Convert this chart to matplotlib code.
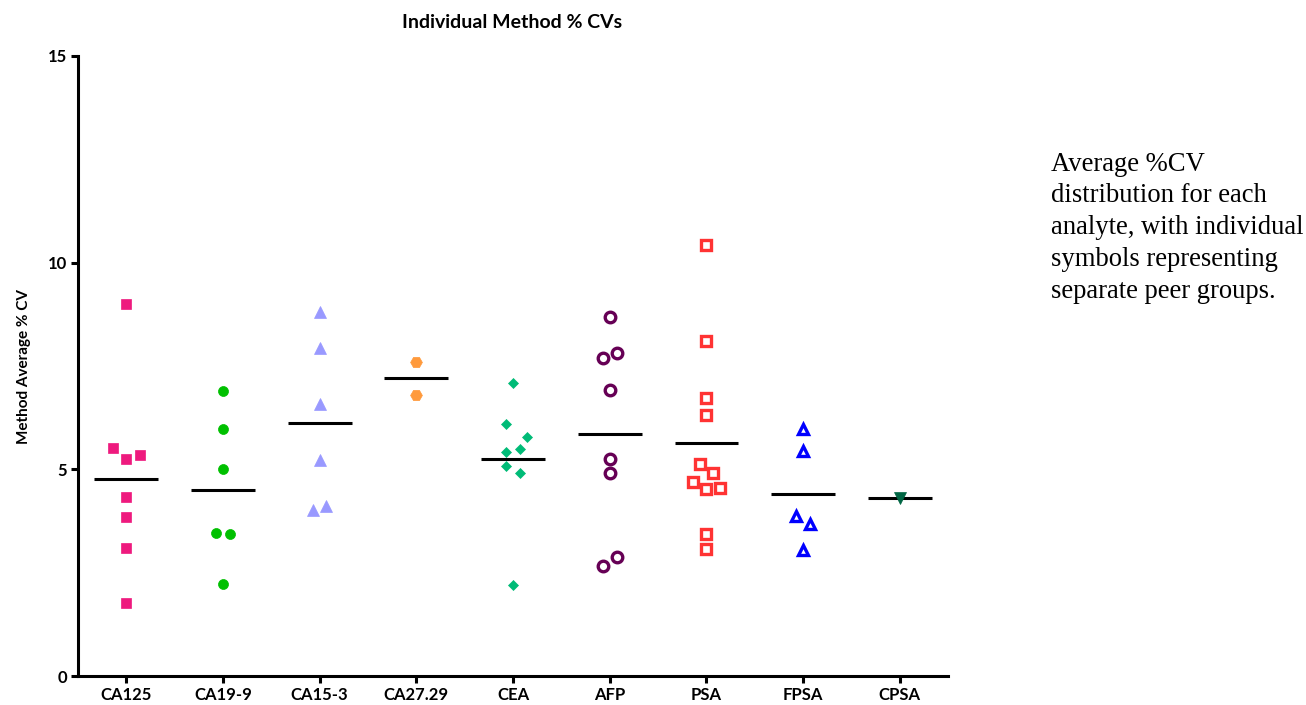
import matplotlib
matplotlib.use("Agg")
import matplotlib.pyplot as plt
import numpy as np

# Analytes shown along the x axis
analytes = ["CA125", "CA19-9", "CA15-3", "CA27.29", "CEA", "AFP", "PSA", "FPSA", "CPSA"]

# Method average %CV for each peer group, per analyte
ca125 = [9.01, 5.52, 5.25, 5.35, 4.33, 3.84, 3.10, 1.76]
ca199 = [6.89, 5.98, 5.01, 3.47, 3.43, 2.22]
ca153 = [8.81, 7.94, 6.58, 5.23, 4.02, 4.11]
ca2729 = [7.59, 6.81]
cea = [7.10, 6.10, 5.79, 5.49, 5.41, 5.09, 4.91, 2.20]
afp = [8.69, 7.82, 7.69, 6.91, 5.26, 4.91, 2.89, 2.66]
psa = [10.42, 8.11, 6.73, 6.32, 5.13, 4.90, 4.69, 4.53, 4.56, 3.43, 3.07]
fpsa = [5.97, 5.44, 3.88, 3.68, 3.05]
cpsa = [4.31]

yticks = [0, 5, 10, 15]

# Horizontal scatter slots so that overlapping symbols stay visible
ca125_dx = [0, -2, 0, 2, 0, 0, 0, 0]
ca199_dx = [0, 0, 0, -1, 1, 0]
ca153_dx = [0, 0, 0, 0, -1, 1]
ca2729_dx = [0, 0]
cea_dx = [0, -1, 2, 1, -1, -1, 1, 0]
afp_dx = [0, 1, -1, 0, 0, 0, 1, -1]
psa_dx = [0, 0, 0, 0, -1, 1, -2, 0, 2, 0, 0]
fpsa_dx = [0, 0, -1, 1, 0]
cpsa_dx = [0]

series = [ca125, ca199, ca153, ca2729, cea, afp, psa, fpsa, cpsa]
offsets = [ca125_dx, ca199_dx, ca153_dx, ca2729_dx, cea_dx, afp_dx, psa_dx, fpsa_dx, cpsa_dx]

styles = [
    dict(marker="s", color="#ee1a7e", filled=True, ms=7.2),
    dict(marker="o", color="#00c000", filled=True, ms=7.2),
    dict(marker="^", color="#9999ff", filled=True, ms=8.5),
    dict(marker="H", color="#ff9a3c", filled=True, ms=8.5),
    dict(marker="D", color="#00bb77", filled=True, ms=5.5),
    dict(marker="o", color="#660055", filled=False, ms=7.6),
    dict(marker="s", color="#ff3333", filled=False, ms=7.2),
    dict(marker="^", color="#0000ff", filled=False, ms=7.6),
    dict(marker="v", color="#006644", filled=True, ms=8.0),
]

slot = 0.07

fig = plt.figure(figsize=(13.06, 7.05), dpi=100)
ax = fig.add_axes([0.0597, 0.0411, 0.6663, 0.8795])

for i, (vals, dx, st) in enumerate(zip(series, offsets, styles)):
    x = i + 1 + np.array(dx) * slot
    if st["filled"]:
        ax.plot(x, vals, linestyle="none", marker=st["marker"], ms=st["ms"],
                mfc=st["color"], mec=st["color"], mew=0.5, zorder=3)
    else:
        ax.plot(x, vals, linestyle="none", marker=st["marker"], ms=st["ms"],
                mfc="white", mec=st["color"], mew=2.4, zorder=3)
    m = float(np.mean(vals))
    ax.hlines(m, i + 1 - 0.33, i + 1 + 0.33, colors="black", linewidth=2.2, zorder=2)

ax.set_xlim(0.5, 9.5)
ax.set_ylim(0, 15)
ax.set_xticks(range(1, len(analytes) + 1))
ax.set_xticklabels(analytes)
ax.set_yticks(yticks)
ax.set_yticklabels([str(t) for t in yticks])

for side in ("top", "right"):
    ax.spines[side].set_visible(False)
for side in ("left", "bottom"):
    ax.spines[side].set_linewidth(2.2)

ax.tick_params(axis="both", direction="out", length=5, width=2.2, pad=3)
for lab in ax.get_xticklabels() + ax.get_yticklabels():
    lab.set_fontfamily("Lato")
    lab.set_fontweight("bold")
    lab.set_fontsize(12)

ax.set_ylabel("Method Average % CV", fontfamily="Lato", fontweight="bold", fontsize=11, labelpad=12)
fig.text(0.392, 0.968, "Individual Method % CVs", ha="center", va="center",
         fontfamily="Lato", fontweight="bold", fontsize=14)

fig.text(0.805, 0.785,
         "Average %CV\ndistribution for each\nanalyte, with individual\nsymbols representing\nseparate peer groups.",
         ha="left", va="top", fontfamily="Liberation Serif", fontsize=19.2, linespacing=1.36)

fig.savefig("out.png", dpi=100)
